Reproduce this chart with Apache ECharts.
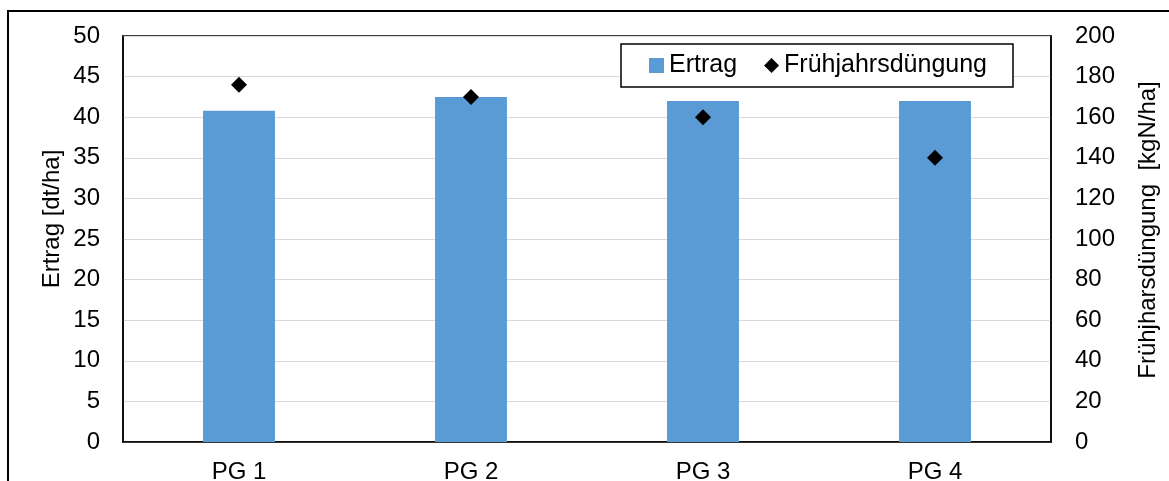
<!DOCTYPE html>
<html>
<head>
<meta charset="utf-8">
<script src="https://cdn.jsdelivr.net/npm/echarts@6/dist/echarts.min.js"></script>
<style>
html,body{margin:0;padding:0;background:#fff;}
#chart{width:1169px;height:481px;}
</style>
</head>
<body>
<div id="chart"></div>
<script>
const categories = ['PG 1', 'PG 2', 'PG 3', 'PG 4'];
const ertrag = [40.8, 42.5, 42.0, 42.0];
const duengung = [176, 170, 160, 140];
const leftTicks = { min: 0, max: 50, interval: 5 };
const rightTicks = { min: 0, max: 200, interval: 20 };
const leftTitle = 'Ertrag [dt/ha]';
const rightTitle = 'Frühjharsdüngung  [kgN/ha]';

const FONT = '"Liberation Sans", Arial, sans-serif';
const chart = echarts.init(document.getElementById('chart'), null, { renderer: 'canvas' });
chart.setOption({
  animation: false,
  backgroundColor: '#fff',
  textStyle: { fontFamily: FONT },
  graphic: [{
    type: 'rect',
    shape: { x: 8, y: 11, width: 1300, height: 600 },
    style: { fill: 'none', stroke: '#000', lineWidth: 2 },
    silent: true
  }, {
    type: 'text',
    x: 52, y: 219,
    rotation: Math.PI / 2,
    style: { text: leftTitle, font: '24px ' + FONT, fill: '#000', align: 'center', verticalAlign: 'middle' },
    silent: true
  }, {
    type: 'text',
    x: 1148, y: 230,
    rotation: Math.PI / 2,
    style: { text: rightTitle, font: '24px ' + FONT, fill: '#000', align: 'center', verticalAlign: 'middle' },
    silent: true
  }],
  grid: { left: 123, top: 36, right: 118, bottom: 39, outerBoundsMode: 'none', containLabel: false, show: true, borderColor: '#000', borderWidth: 1.5, backgroundColor: 'transparent' },
  legend: {
    left: 621, top: 44,
    padding: [9, 26, 9, 28],
    itemGap: 27,
    itemWidth: 15, itemHeight: 15,
    borderColor: '#000', borderWidth: 1.5,
    backgroundColor: '#fff',
    textStyle: { fontSize: 25, color: '#000', fontFamily: FONT },
    data: [
      { name: 'Ertrag', icon: 'rect' },
      { name: 'Frühjahrsdüngung', icon: 'diamond' }
    ]
  },
  xAxis: {
    type: 'category',
    data: categories,
    axisLine: { lineStyle: { color: '#000', width: 1.5 } },
    axisTick: { show: false },
    axisLabel: { fontSize: 24, color: '#000', margin: 18, fontFamily: FONT },
    splitLine: { show: false }
  },
  yAxis: [{
    type: 'value',
    min: leftTicks.min, max: leftTicks.max, interval: leftTicks.interval,
    axisLine: { show: true, lineStyle: { color: '#000', width: 1.5 } },
    axisTick: { show: false },
    axisLabel: { fontSize: 24, color: '#000', margin: 23, fontFamily: FONT },
    splitLine: { show: true, lineStyle: { color: '#d9d9d9', width: 1 } }
  }, {
    type: 'value',
    position: 'right',
    min: rightTicks.min, max: rightTicks.max, interval: rightTicks.interval,
    axisLine: { show: true, lineStyle: { color: '#000', width: 1.5 } },
    axisTick: { show: false },
    axisLabel: { fontSize: 24, color: '#000', margin: 24, fontFamily: FONT },
    splitLine: { show: false }
  }],
  series: [{
    name: 'Ertrag',
    type: 'bar',
    data: ertrag,
    yAxisIndex: 0,
    barWidth: '31%',
    itemStyle: { color: '#5B9BD5' }
  }, {
    name: 'Frühjahrsdüngung',
    type: 'scatter',
    data: duengung,
    yAxisIndex: 1,
    symbol: 'diamond',
    symbolSize: [16, 16],
    itemStyle: { color: '#000', opacity: 1 }
  }]
});
</script>
</body>
</html>
